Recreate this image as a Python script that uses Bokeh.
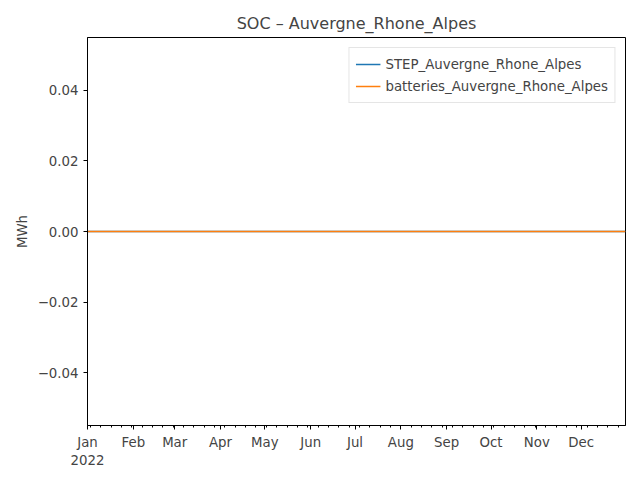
import pandas as pd
from bokeh.plotting import figure
from bokeh.models import FixedTicker, Legend, LegendItem
from bokeh.embed import file_html
from bokeh.resources import INLINE

dates = pd.date_range("2022-01-01", "2022-12-31", freq="D")
step_soc = [0.0] * len(dates)
batt_soc = [0.0] * len(dates)
series_names = ["STEP_Auvergne_Rhone_Alpes", "batteries_Auvergne_Rhone_Alpes"]
month_labels = ["Jan\n2022", "Feb", "Mar", "Apr", "May", "Jun", "Jul", "Aug", "Sep", "Oct", "Nov", "Dec"]
y_ticks = [-0.04, -0.02, 0.0, 0.02, 0.04]
y_labels = ["\u22120.04", "\u22120.02", "0.00", "0.02", "0.04"]

FONT = "DejaVu Sans"
x0 = pd.Timestamp("2022-01-01")
x1 = pd.Timestamp("2022-12-31")
p = figure(width=632, height=472, x_axis_type="datetime", output_backend="svg",
           toolbar_location=None, x_range=(x0, x1), y_range=(-0.055, 0.055),
           min_border_left=87, min_border_right=7, min_border_top=37, min_border_bottom=47)
p.title.text = "SOC \u2013 Auvergne_Rhone_Alpes"
p.title.align = "center"
p.title.text_font = FONT
p.title.text_font_size = "12pt"
p.title.text_font_style = "normal"
p.grid.visible = False
p.outline_line_color = "black"

month_ms = [pd.Timestamp(2022, m, 1).value / 1e6 for m in range(1, 13)]
week_ms = [d.value / 1e6 for d in pd.date_range("2022-01-03", "2022-12-31", freq="W-MON")]
p.xaxis.ticker = FixedTicker(ticks=month_ms, minor_ticks=week_ms)
p.xaxis.major_label_overrides = {t: l for t, l in zip(month_ms, month_labels)}
p.yaxis.ticker = FixedTicker(ticks=y_ticks)
p.yaxis.major_label_overrides = {t: l for t, l in zip(y_ticks, y_labels)}
p.yaxis.axis_label = "MWh"
for ax in (p.xaxis, p.yaxis):
    ax.major_label_text_font = FONT
    ax.major_label_text_font_size = "10pt"
    ax.axis_label_text_font = FONT
    ax.axis_label_text_font_size = "10pt"
    ax.axis_label_text_font_style = "normal"
    ax.major_tick_out = 4
    ax.major_tick_in = 0
    ax.minor_tick_in = 0
p.xaxis.minor_tick_out = 2
p.yaxis.minor_tick_line_color = None

r1 = p.line(dates, step_soc, color="#1f77b4", line_width=1.5)
r2 = p.line(dates, batt_soc, color="#ff7f0e", line_width=1.5)
leg = Legend(items=[LegendItem(label=series_names[0], renderers=[r1]),
                    LegendItem(label=series_names[1], renderers=[r2])],
             location="top_right", label_text_font=FONT, label_text_font_size="10pt",
             border_line_color="#cccccc", spacing=2, padding=6, glyph_width=25)
p.add_layout(leg)

open("out.html", "w").write(file_html(p, INLINE))
